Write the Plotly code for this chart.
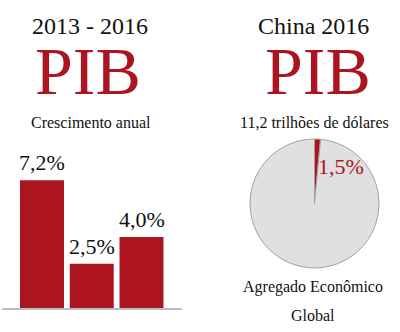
import plotly.graph_objects as go

# Annual GDP growth, 2013-2016
years = ["2014", "2015", "2016"]
growth = [7.2, 2.5, 4.0]
growth_labels = ["7,2%", "2,5%", "4,0%"]

# China's share of global GDP, 2016
pie_labels = ["China", "Resto do mundo"]
pie_values = [1.5, 98.5]
share_label = "1,5%"

RED = "#ac1520"
GREY = "#e0e0e0"
SERIF = "Liberation Serif, Times New Roman, serif"

W, H = 400, 332


def py(px):
    """Convert a pixel row (from the top) to paper y."""
    return 1 - px / H


fig = go.Figure()

fig.add_trace(go.Bar(
    x=years, y=growth,
    marker=dict(color=RED, line=dict(width=0)),
    width=0.884,
    hoverinfo="skip",
    xaxis="x", yaxis="y",
))

fig.add_trace(go.Pie(
    labels=pie_labels, values=pie_values,
    marker=dict(colors=[RED, GREY], line=dict(color="#a0a0a0", width=1)),
    sort=False, direction="clockwise", rotation=0,
    textinfo="none", hoverinfo="skip", showlegend=False,
    domain=dict(x=[247 / W, 382 / W], y=[py(268), py(139)]),
))

annotations = []
# value labels above the bars (category axis: x given as bar index)
for i, (val, lab) in enumerate(zip(growth, growth_labels)):
    annotations.append(dict(
        x=i, y=val, xref="x", yref="y", text=lab, showarrow=False,
        yanchor="bottom", yshift=3,
        font=dict(family=SERIF, size=22, color="#111111"),
    ))


def txt(x, y, text, size, color="#111111"):
    annotations.append(dict(
        x=x / W, y=py(y), xref="paper", yref="paper", text=text,
        showarrow=False, xanchor="center", yanchor="middle",
        font=dict(family=SERIF, size=size, color=color),
    ))


txt(90, 26, "2013 - 2016", 24)
txt(88, 71, "PIB", 68, RED)
txt(91, 122, "Crescimento anual", 16)
txt(313, 26, "China 2016", 24)
txt(318, 71, "PIB", 68, RED)
txt(314, 122, "11,2 trilhões de dólares", 16)
txt(341, 166, share_label, 22, RED)
txt(313, 287, "Agregado Econômico", 16)
txt(313, 315, "Global", 16)

fig.update_layout(
    width=W, height=H,
    margin=dict(l=0, r=0, t=0, b=0),
    paper_bgcolor="white", plot_bgcolor="white",
    showlegend=False,
    annotations=annotations,
    xaxis=dict(
        type="category",
        domain=[2 / W, 182 / W],
        range=[-0.804, 2.814],
        showticklabels=False, ticks="", showgrid=False, zeroline=False,
        showline=True, linecolor="#bcbcbc", linewidth=2,
        fixedrange=True,
    ),
    yaxis=dict(
        domain=[py(308), py(166)],
        range=[0, 8],
        showticklabels=False, ticks="", showgrid=False, zeroline=False,
        showline=False, fixedrange=True,
    ),
)

fig.write_html("out.html", config={"displayModeBar": False})
